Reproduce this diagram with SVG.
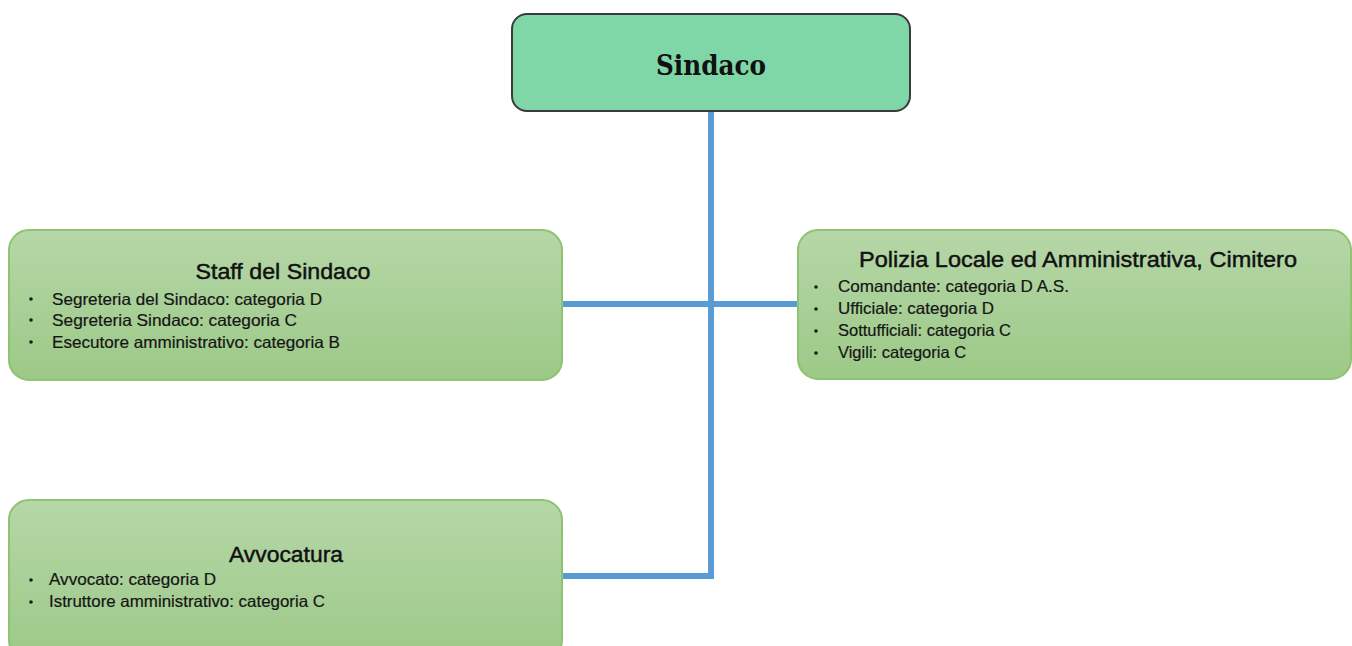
<svg xmlns="http://www.w3.org/2000/svg" width="1352" height="646" viewBox="0 0 1352 646">
<defs>
<linearGradient id="g" x1="0" y1="0" x2="0" y2="1">
<stop offset="0" stop-color="#b6d7a8"/>
<stop offset="1" stop-color="#9cc987"/>
</linearGradient>
<style>
.box{fill:url(#g);stroke:#8fc271;stroke-width:2}
.top{fill:#7fd6a6;stroke:#3a3a3a;stroke-width:2}
.title{font-family:"Liberation Sans",Arial,sans-serif;font-size:22px;fill:#111;stroke:#111;stroke-width:0.45;text-anchor:middle}
.item{font-family:"Liberation Sans",Arial,sans-serif;font-size:16.5px;fill:#151515;stroke:#151515;stroke-width:0.2}
.bul{fill:#1a1a1a}
.conn{stroke:#5b9bd5;stroke-width:6;fill:none}
</style>
</defs>
<rect width="1352" height="646" fill="#fff"/>
<g id="connectors">
<path class="conn" d="M711 111 V576 H562"/>
<path class="conn" d="M562 304 H798"/>
</g>
<g id="sindaco">
<rect class="top" x="512" y="14" width="398" height="97" rx="15"/>
<text x="711" y="75" text-anchor="middle" font-family="'DejaVu Serif',serif" font-weight="bold" font-size="28" fill="#111" textLength="110" lengthAdjust="spacingAndGlyphs">Sindaco</text>
</g>
<g id="staff">
<rect class="box" x="9" y="230" width="553" height="150" rx="20"/>
<text class="title" x="283" y="279" textLength="175" lengthAdjust="spacingAndGlyphs">Staff del Sindaco</text>
<circle class="bul" cx="31" cy="299" r="1.8"/>
<circle class="bul" cx="31" cy="320" r="1.8"/>
<circle class="bul" cx="31" cy="342" r="1.8"/>
<text class="item" x="52" y="305" textLength="270" lengthAdjust="spacingAndGlyphs">Segreteria del Sindaco: categoria D</text>
<text class="item" x="52" y="326" textLength="245" lengthAdjust="spacingAndGlyphs">Segreteria Sindaco: categoria C</text>
<text class="item" x="52" y="348" textLength="288" lengthAdjust="spacingAndGlyphs">Esecutore amministrativo: categoria B</text>
</g>
<g id="polizia">
<rect class="box" x="798" y="230" width="553" height="149" rx="20"/>
<text class="title" x="1078" y="267" textLength="438" lengthAdjust="spacingAndGlyphs">Polizia Locale ed Amministrativa, Cimitero</text>
<circle class="bul" cx="816" cy="287" r="1.8"/>
<circle class="bul" cx="816" cy="309" r="1.8"/>
<circle class="bul" cx="816" cy="331" r="1.8"/>
<circle class="bul" cx="816" cy="353" r="1.8"/>
<text class="item" x="838" y="292" textLength="231" lengthAdjust="spacingAndGlyphs">Comandante: categoria D A.S.</text>
<text class="item" x="838" y="314" textLength="156" lengthAdjust="spacingAndGlyphs">Ufficiale: categoria D</text>
<text class="item" x="838" y="336">Sottufficiali: categoria C</text>
<text class="item" x="838" y="358">Vigili: categoria C</text>
</g>
<g id="avvocatura">
<rect class="box" x="9" y="500" width="553" height="160" rx="20"/>
<text class="title" x="286" y="562" textLength="114" lengthAdjust="spacingAndGlyphs">Avvocatura</text>
<circle class="bul" cx="31" cy="580" r="1.8"/>
<circle class="bul" cx="31" cy="602" r="1.8"/>
<text class="item" x="49" y="585" textLength="167" lengthAdjust="spacingAndGlyphs">Avvocato: categoria D</text>
<text class="item" x="49" y="607" textLength="276" lengthAdjust="spacingAndGlyphs">Istruttore amministrativo: categoria C</text>
</g>
</svg>
